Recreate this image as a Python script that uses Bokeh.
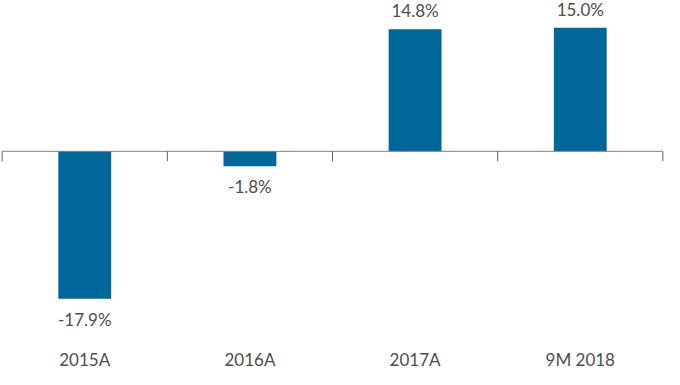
import math
from bokeh.plotting import figure
from bokeh.models import ColumnDataSource, Range1d, LinearAxis, FixedTicker
from bokeh.core.properties import value
from bokeh.embed import file_html
from bokeh.resources import INLINE

categories = ["2015A", "2016A", "2017A", "9M 2018"]
growth = [-17.9, -1.8, 14.8, 15.0]
labels = ["-17.9%", "-1.8%", "14.8%", "15.0%"]

FONT = "Lato"
TXT = "#4d4d4d"
BAR = "#00679a"

centers = [i + 0.5 for i in range(len(categories))]
bounds = [float(i) for i in range(len(categories) + 1)]

pos = [i for i, v in enumerate(growth) if v >= 0]
neg = [i for i, v in enumerate(growth) if v < 0]
src = ColumnDataSource(dict(x=centers, top=growth, label=labels))
src_pos = ColumnDataSource(dict(x=[centers[i] for i in pos], y=[growth[i] for i in pos], label=[labels[i] for i in pos]))
src_neg = ColumnDataSource(dict(x=[centers[i] for i in neg], y=[growth[i] for i in neg], label=[labels[i] for i in neg]))
src_ticks = ColumnDataSource(dict(x=bounds, y=[0.0] * len(bounds)))

p = figure(frame_width=664, frame_height=328, output_backend="svg", toolbar_location=None,
           x_range=Range1d(-0.01, 4.01), y_range=Range1d(-21.5, 18.3),
           min_border_left=0, min_border_right=0, min_border_top=0, min_border_bottom=0,
           x_axis_location=None, y_axis_location=None)
p.outline_line_color = None
p.grid.visible = False
p.background_fill_color = "white"

p.vbar(x="x", top="top", bottom=0, width=0.32, source=src, color=BAR, line_color=None)

# zero line and boundary ticks
p.segment(x0=bounds[0], y0=0, x1=bounds[-1], y1=0, line_color="#808080", line_width=1)
p.ray(x="x", y="y", length=10, length_units="screen", angle=-math.pi / 2,
      source=src_ticks, line_color="#606060", line_width=1)

# category label axis at bottom
cat_axis = LinearAxis(ticker=FixedTicker(ticks=centers),
                      major_label_overrides={c: n for c, n in zip(centers, categories)},
                      axis_line_color=None, major_tick_line_color=None, minor_tick_line_color=None,
                      major_tick_out=0, major_tick_in=0,
                      major_label_text_font=FONT, major_label_text_font_size="17px",
                      major_label_text_color=TXT, major_label_standoff=20)
p.add_layout(cat_axis, "below")

p.text(x="x", y="y", text="label", source=src_pos, text_align="center", text_baseline="bottom",
       y_offset=-8, text_font=value(FONT), text_font_size="17px", text_color=TXT)
p.text(x="x", y="y", text="label", source=src_neg, text_align="center", text_baseline="top",
       y_offset=10, text_font=value(FONT), text_font_size="17px", text_color=TXT)

open("out.html", "w").write(file_html(p, INLINE))
